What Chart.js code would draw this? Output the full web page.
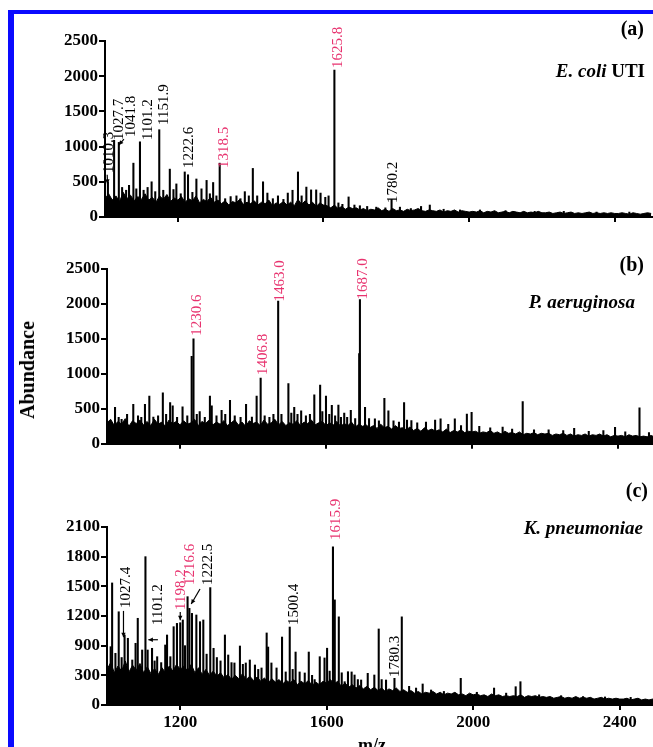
<!DOCTYPE html>
<html>
<head>
<meta charset="utf-8">
<script src="https://cdn.jsdelivr.net/npm/chart.js@4.4.1/dist/chart.umd.min.js"></script>
<style>
  html, body { margin: 0; padding: 0; background: #fff; }
  #page { position: relative; width: 653px; height: 747px; overflow: hidden; background: #fff; }
  #frame { position: absolute; left: 8px; top: 10px; width: 700px; height: 760px;
           border-left: 6px solid #0a0aff; border-top: 4px solid #0a0aff; }
  canvas { position: absolute; left: 0; }
  .txt { position: absolute; font-family: "Liberation Serif", "Times New Roman", serif;
         font-weight: bold; color: #000; white-space: nowrap; line-height: 1; }
</style>
</head>
<body>
<div id="page">
  <div id="frame"></div>
  <canvas id="panelA" width="653" height="240" style="top:0px"></canvas>
  <canvas id="panelB" width="653" height="215" style="top:240px"></canvas>
  <canvas id="panelC" width="653" height="287" style="top:460px"></canvas>

  <div class="txt" style="right:9px; top:18px; font-size:20px;">(a)</div>
  <div class="txt" style="right:8px; top:61px; font-size:19px;"><i>E. coli</i> UTI</div>
  <div class="txt" style="right:9px; top:254px; font-size:20px;">(b)</div>
  <div class="txt" style="right:18px; top:292px; font-size:19px;"><i>P. aeruginosa</i></div>
  <div class="txt" style="right:5px; top:480px; font-size:20px;">(c)</div>
  <div class="txt" style="right:10px; top:518px; font-size:19px;"><i>K. pneumoniae</i></div>
  <div class="txt" style="left:27px; top:370px; font-size:20px; transform: translate(-50%, -50%) rotate(-90deg);">Abundance</div>
  <div class="txt" style="left:372px; top:736px; font-size:18px; transform: translateX(-50%);">m/z</div>
</div>

<script>
// ---- data ----
// peaks: [m/z, abundance]
const ecoliPeaks = [
  [1008, 500], [1025, 1090], [1038, 1060], [1047, 420], [1058, 380], [1066, 450], [1078, 765],
  [1086, 400], [1096, 1068], [1106, 380], [1117, 420], [1128, 500], [1138, 360], [1149, 1240],
  [1160, 380], [1178, 680], [1188, 390], [1196, 470], [1208, 330], [1219, 640], [1228, 600],
  [1240, 350], [1251, 540], [1265, 400], [1279, 520], [1288, 330], [1297, 490], [1306, 300],
  [1315, 765], [1330, 260], [1345, 290], [1361, 300], [1372, 260], [1384, 360], [1395, 300],
  [1406, 690], [1418, 300], [1434, 500], [1446, 340], [1461, 260], [1475, 300], [1490, 250],
  [1502, 340], [1515, 380], [1530, 640], [1540, 300], [1553, 425], [1566, 385], [1580, 385],
  [1592, 340], [1605, 280], [1614, 300], [1630, 2087], [1641, 200], [1652, 180], [1669, 285],
  [1685, 170], [1700, 160], [1720, 150], [1745, 140], [1770, 130], [1787, 250], [1810, 140],
  [1840, 120], [1868, 150], [1892, 170], [1930, 110], [1975, 100], [2030, 100], [2100, 90],
  [2180, 80], [2260, 80], [2350, 70], [2440, 70]
];
const pseudoPeaks = [
  [1022, 520], [1032, 380], [1040, 350], [1055, 420], [1072, 566], [1085, 400], [1094, 380],
  [1104, 566], [1116, 683], [1127, 383], [1140, 400], [1153, 730], [1162, 420], [1173, 590],
  [1180, 543], [1192, 380], [1207, 530], [1220, 400], [1232, 1250], [1237, 1502], [1246, 420],
  [1254, 460], [1268, 380], [1282, 683], [1287, 543], [1300, 400], [1314, 480], [1324, 420],
  [1337, 620], [1350, 400], [1366, 380], [1381, 566], [1397, 383], [1410, 683], [1421, 940],
  [1432, 400], [1445, 380], [1456, 420], [1469, 2040], [1478, 420], [1497, 860], [1505, 440],
  [1513, 520], [1522, 420], [1532, 470], [1545, 400], [1556, 420], [1568, 700], [1584, 840],
  [1590, 460], [1600, 683], [1609, 420], [1616, 550], [1625, 400], [1634, 555], [1641, 380],
  [1650, 440], [1658, 380], [1668, 480], [1680, 360], [1691, 1290], [1693, 2064], [1707, 520],
  [1718, 360], [1734, 356], [1745, 330], [1760, 650], [1771, 473], [1785, 330], [1800, 310],
  [1814, 590], [1822, 340], [1834, 333], [1850, 300], [1874, 310], [1899, 340], [1914, 356],
  [1935, 280], [1953, 356], [1970, 260], [1986, 426], [1999, 450], [2020, 250], [2050, 230],
  [2084, 240], [2110, 210], [2139, 603], [2170, 200], [2210, 200], [2250, 190], [2280, 220],
  [2320, 180], [2360, 190], [2392, 234], [2420, 170], [2459, 515], [2485, 160]
];
const klebPeaks = [
  [1010, 688], [1014, 1440], [1023, 610], [1032, 1100], [1040, 560], [1048, 826], [1057, 787],
  [1069, 531], [1078, 728], [1084, 1023], [1096, 649], [1105, 1750], [1111, 649], [1123, 669],
  [1130, 520], [1137, 570], [1148, 500], [1159, 708], [1164, 826], [1173, 570], [1182, 924],
  [1191, 963], [1200, 971], [1207, 1003], [1213, 700], [1220, 1278], [1225, 1140], [1232, 1081],
  [1244, 1062], [1254, 983], [1263, 1003], [1272, 600], [1282, 1385], [1291, 669], [1300, 560],
  [1310, 520], [1322, 826], [1331, 590], [1340, 500], [1348, 496], [1363, 696], [1371, 480],
  [1379, 496], [1390, 531], [1404, 472], [1413, 420], [1422, 437], [1436, 850], [1440, 684],
  [1449, 496], [1463, 437], [1478, 802], [1488, 390], [1499, 920], [1507, 420], [1515, 625],
  [1526, 390], [1540, 378], [1551, 625], [1560, 350], [1567, 300], [1581, 570], [1594, 555],
  [1601, 670], [1608, 400], [1617, 1866], [1622, 1240], [1633, 1040], [1641, 380], [1649, 275],
  [1658, 393], [1668, 390], [1676, 354], [1685, 300], [1694, 295], [1712, 374], [1730, 354],
  [1742, 897], [1750, 300], [1762, 295], [1785, 315], [1805, 1040], [1825, 220], [1844, 200],
  [1862, 248], [1885, 177], [1920, 160], [1966, 315], [2010, 150], [2057, 200], [2090, 140],
  [2116, 216], [2129, 275], [2180, 120], [2240, 110], [2300, 100], [2360, 95], [2430, 90]
];

// noise floor, one reading every 10 m/z from 1000 to 2500
const NOISE_START = 1000;
const NOISE_STEP = 10;
const ecoliNoise = [
  260, 330, 240, 300, 220, 350, 260, 310, 230, 290, 250,
  330, 240, 280, 210, 300, 250, 320, 220, 270, 240,
  290, 210, 260, 230, 300, 200, 250, 220, 280, 210,
  240, 190, 230, 170, 220, 200, 250, 180, 210, 190,
  230, 170, 210, 190, 240, 160, 200, 180, 220, 170,
  210, 160, 250, 180, 230, 170, 210, 150, 200, 170,
  160, 130, 170, 120, 150, 110, 140, 120, 130, 100,
  120, 90, 110, 100, 130, 90, 110, 80, 120, 90,
  100, 80, 110, 90, 100, 120, 90, 80, 100, 90,
  80, 100, 70, 90, 80, 100, 70, 90, 80, 70,
  80, 70, 90, 60, 80, 70, 90, 60, 70, 80,
  60, 80, 70, 60, 80, 60, 70, 60, 80, 60,
  60, 70, 50, 60, 70, 50, 60, 70, 50, 60,
  50, 60, 70, 50, 60, 50, 60, 50, 60, 50,
  50, 60, 50, 40, 60, 50, 40, 50, 60, 50
];
const pseudoNoise = [
  300, 350, 260, 320, 280, 360, 250, 330, 290, 340, 270,
  320, 260, 350, 280, 310, 250, 340, 290, 320, 270,
  330, 280, 300, 350, 260, 320, 290, 340, 270, 310,
  280, 330, 260, 300, 340, 270, 310, 250, 330, 290,
  310, 260, 340, 280, 300, 350, 270, 320, 260, 300,
  280, 330, 260, 310, 290, 340, 270, 300, 320, 260,
  300, 270, 320, 250, 290, 260, 310, 240, 280, 250,
  270, 230, 260, 220, 280, 230, 250, 210, 260, 220,
  230, 200, 240, 190, 220, 180, 230, 190, 210, 180,
  200, 170, 210, 160, 190, 170, 200, 160, 180, 170,
  180, 150, 170, 160, 190, 150, 170, 140, 180, 150,
  160, 140, 170, 130, 150, 140, 160, 130, 150, 140,
  150, 120, 140, 130, 150, 120, 140, 110, 130, 120,
  140, 110, 130, 120, 140, 110, 130, 100, 120, 110,
  120, 100, 130, 110, 120, 100, 110, 100, 120, 100
];
const klebNoise = [
  420, 500, 380, 460, 400, 520, 390, 470, 410, 490, 380,
  450, 370, 430, 360, 440, 380, 460, 400, 480, 420,
  460, 400, 480, 380, 440, 360, 420, 350, 400, 340,
  380, 320, 360, 300, 350, 310, 370, 300, 340, 290,
  330, 280, 320, 260, 310, 270, 300, 250, 290, 260,
  300, 240, 280, 250, 290, 230, 270, 240, 280, 260,
  300, 250, 280, 220, 260, 210, 240, 200, 230, 190,
  220, 180, 210, 170, 200, 160, 190, 170, 200, 160,
  180, 150, 170, 140, 160, 130, 150, 140, 160, 130,
  150, 120, 140, 130, 150, 120, 130, 110, 140, 120,
  130, 110, 120, 100, 130, 110, 120, 100, 110, 100,
  110, 100, 120, 90, 110, 100, 110, 90, 100, 90,
  100, 80, 90, 100, 80, 90, 80, 100, 80, 90,
  80, 90, 70, 80, 90, 70, 80, 70, 80, 70,
  70, 80, 60, 70, 80, 60, 70, 60, 70, 60
];

// tick values / labels
const mzTicks = [1200, 1600, 2000, 2400];
const abundTicks = [0, 500, 1000, 1500, 2000, 2500];
const abundLabels = ['0', '500', '1000', '1500', '2000', '2500'];
const klebTicks = [0, 350, 700, 1050, 1400, 1750, 2100];
const klebTickLabels = ['0', '300', '900', '1200', '1500', '1800', '2100'];

// peak annotations: text, anchor m/z, anchor abundance (bottom of the text)
const PINK = '#e8336f';
const ecoliNotes = [
  ['1010.3', 1008, 625, '#000'], ['1027.7', 1036, 1093, '#000'], ['1041.8', 1068, 1136, '#000'],
  ['1101.2', 1115, 1093, '#000'], ['1151.9', 1159, 1306, '#000'], ['1222.6', 1227, 696, '#000'],
  ['1318.5', 1323, 696, PINK], ['1625.8', 1638, 2116, PINK], ['1780.2', 1789, 199, '#000']
];
const ecoliArrows = [[1006, 600, 1007, 470], [1052, 1107, 1038, 1022]];
const pseudoNotes = [
  ['1230.6', 1244, 1544, PINK], ['1406.8', 1425, 983, PINK],
  ['1463.0', 1471, 2036, PINK], ['1687.0', 1699, 2064, PINK]
];
const pseudoArrows = [];
const klebNotes = [
  ['1027.4', 1050, 1145, '#000'], ['1101.2', 1137, 944, '#000'], ['1198.2', 1200, 1121, PINK],
  ['1216.6', 1224, 1416, PINK], ['1222.5', 1273, 1416, '#000'], ['1615.9', 1622, 1947, PINK],
  ['1500.4', 1507, 944, '#000'], ['1780.3', 1785, 330, '#000']
];
const klebArrows = [
  [1045, 1110, 1045, 800], [1139, 770, 1113, 770], [1200, 1097, 1200, 1000], [1254, 1369, 1230, 1192]
];

// ---- drawing ----
const SERIF = '"Liberation Serif", "Times New Roman", serif';

const peakNotes = {
  id: 'peakNotes',
  afterDatasetsDraw(chart, args, opts) {
    const ctx = chart.ctx, xs = chart.scales.x, ys = chart.scales.y;
    ctx.save();
    ctx.font = '15px ' + SERIF;
    ctx.textAlign = 'left';
    ctx.textBaseline = 'middle';
    opts.notes.forEach(([text, mz, ab, color]) => {
      const x = xs.getPixelForValue(mz), y = ys.getPixelForValue(ab);
      ctx.save();
      ctx.translate(x, y);
      ctx.rotate(-Math.PI / 2);
      ctx.fillStyle = color;
      ctx.fillText(text, 0, 1);
      ctx.restore();
    });
    ctx.strokeStyle = '#000';
    ctx.fillStyle = '#000';
    ctx.lineWidth = 1.2;
    opts.arrows.forEach(([m1, a1, m2, a2]) => {
      const x1 = xs.getPixelForValue(m1), y1 = ys.getPixelForValue(a1);
      const x2 = xs.getPixelForValue(m2), y2 = ys.getPixelForValue(a2);
      const ang = Math.atan2(y2 - y1, x2 - x1);
      ctx.beginPath();
      ctx.moveTo(x1, y1);
      ctx.lineTo(x2, y2);
      ctx.stroke();
      ctx.beginPath();
      ctx.moveTo(x2, y2);
      ctx.lineTo(x2 - 5 * Math.cos(ang - 0.45), y2 - 5 * Math.sin(ang - 0.45));
      ctx.lineTo(x2 - 5 * Math.cos(ang + 0.45), y2 - 5 * Math.sin(ang + 0.45));
      ctx.closePath();
      ctx.fill();
    });
    ctx.restore();
  }
};

function makePanel(id, peaks, noise, yMax, yTicks, yLabels, showX, box, notes, arrows) {
  const canvas = document.getElementById(id);
  const tickFont = { family: SERIF, size: 17, weight: 'bold' };
  return new Chart(canvas, {
    type: 'bar',
    data: {
      datasets: [
        {
          type: 'bar',
          data: peaks.map(p => ({ x: p[0], y: p[1] })),
          backgroundColor: '#000',
          barThickness: 1.4,
          order: 1
        },
        {
          type: 'line',
          data: noise.map((v, i) => ({ x: NOISE_START + i * NOISE_STEP, y: v })),
          borderColor: '#000',
          backgroundColor: '#000',
          borderWidth: 1,
          pointRadius: 0,
          tension: 0,
          fill: 'origin',
          order: 2
        }
      ]
    },
    options: {
      responsive: false,
      animation: false,
      events: [],
      layout: { padding: { left: 0, right: 0, top: box.top, bottom: canvas.height - box.bottom - box.xh } },
      plugins: {
        legend: { display: false },
        tooltip: { enabled: false },
        peakNotes: { notes: notes, arrows: arrows }
      },
      scales: {
        x: {
          type: 'linear',
          min: 1000,
          max: box.xMax,
          offset: false,
          afterBuildTicks: s => { s.ticks = mzTicks.map(v => ({ value: v })); },
          afterFit: s => { s.height = box.xh; },
          grid: { display: true, drawOnChartArea: false, drawTicks: true, tickLength: 5,
                  color: '#000', lineWidth: 2, offset: false },
          border: { display: true, color: '#000', width: 2 },
          ticks: { display: showX, color: '#000', font: tickFont, padding: 2,
                   maxRotation: 0, autoSkip: false, callback: v => String(v) }
        },
        y: {
          min: 0,
          max: yMax,
          afterBuildTicks: s => { s.ticks = yTicks.map(v => ({ value: v })); },
          afterFit: s => { s.width = box.left; },
          grid: { display: true, drawOnChartArea: false, drawTicks: true, tickLength: 6,
                  color: '#000', lineWidth: 2 },
          border: { display: true, color: '#000', width: 2 },
          ticks: { color: '#000', font: tickFont, padding: 1,
                   callback: (v, i) => yLabels[i] }
        }
      }
    },
    plugins: [peakNotes]
  });
}

makePanel('panelA', ecoliPeaks, ecoliNoise, 2500, abundTicks, abundLabels, false,
  { left: 105, top: 41, bottom: 217, xh: 10, xMax: 2505 }, ecoliNotes, ecoliArrows);
makePanel('panelB', pseudoPeaks, pseudoNoise, 2500, abundTicks, abundLabels, false,
  { left: 107, top: 29, bottom: 207, xh: 10, xMax: 2496 }, pseudoNotes, pseudoArrows);
makePanel('panelC', klebPeaks, klebNoise, 2100, klebTicks, klebTickLabels, true,
  { left: 107, top: 67, bottom: 245, xh: 30, xMax: 2491 }, klebNotes, klebArrows);
</script>
</body>
</html>
